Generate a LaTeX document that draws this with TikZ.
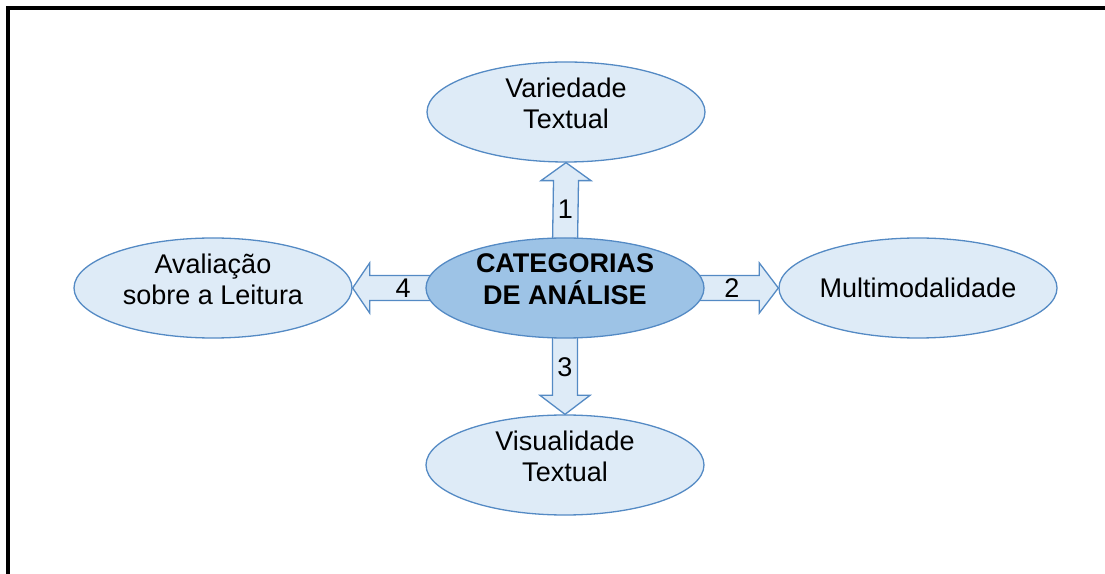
\documentclass[tikz,border=0pt]{standalone}
\usepackage{fontspec}
\setmainfont{Liberation Sans}
\usetikzlibrary{shapes.geometric,calc,backgrounds}
\definecolor{lightblue}{RGB}{222,235,247}
\definecolor{midblue}{RGB}{157,195,230}
\definecolor{edgeblue}{RGB}{84,138,196}
\tikzset{
  topic/.style={ellipse, draw=edgeblue, fill=lightblue, line width=1.3pt,
    minimum width=278pt, minimum height=100pt, inner sep=0pt, align=center,
    text depth=18pt, font=\fontsize{27}{31}\selectfont},
  core/.style={topic, fill=midblue, font=\fontsize{27}{32}\selectfont\bfseries},
  blockarrow/.style={draw=edgeblue, fill=lightblue, line width=1.3pt, line join=miter},
  num/.style={inner sep=0pt, font=\fontsize{27}{31}\selectfont}
}
\begin{document}
\begin{tikzpicture}[x=1pt,y=1pt]
  \useasboundingbox (0,0) rectangle (1105,573);
  \draw[line width=4pt] (8,-20) -- (8,565) -- (1130,565);
  % categories
  \node[core] (cat) at (565,285) {CATEGORIAS\\DE ANÁLISE};
  \node[topic] (var) at (566,461) {Variedade\\Textual};
  \node[topic, text depth=0pt] (mul) at (918,285) {Multimodalidade};
  \node[topic] (vis) at (565,108) {Visualidade\\Textual};
  \node[topic] (ava) at (213,285) {Avaliação\\sobre a Leitura};
  % heads of the block arrows
  \coordinate (h1) at ($(var.south)+(0,-18)$);
  \coordinate (h2) at ($(mul.west)+(-19,0)$);
  \coordinate (h3) at ($(vis.north)+(0,19)$);
  \coordinate (h4) at ($(ava.east)+(17,0)$);
  \begin{scope}[on background layer]
    \draw[blockarrow] ($(cat.north)+(-12.5,-8)$) -- ($(h1)+(-12.5,0)$) -- ($(h1)+(-25,0)$)
      -- (var.south) -- ($(h1)+(25,0)$) -- ($(h1)+(12.5,0)$) -- ($(cat.north)+(12.5,-8)$) -- cycle;
    \draw[blockarrow] ($(cat.east)+(-8,12.5)$) -- ($(h2)+(0,12.5)$) -- ($(h2)+(0,25)$)
      -- (mul.west) -- ($(h2)+(0,-25)$) -- ($(h2)+(0,-12.5)$) -- ($(cat.east)+(-8,-12.5)$) -- cycle;
    \draw[blockarrow] ($(cat.south)+(-12.5,8)$) -- ($(h3)+(-12.5,0)$) -- ($(h3)+(-25,0)$)
      -- (vis.north) -- ($(h3)+(25,0)$) -- ($(h3)+(12.5,0)$) -- ($(cat.south)+(12.5,8)$) -- cycle;
    \draw[blockarrow] ($(cat.west)+(8,12.5)$) -- ($(h4)+(0,12.5)$) -- ($(h4)+(0,25)$)
      -- (ava.east) -- ($(h4)+(0,-25)$) -- ($(h4)+(0,-12.5)$) -- ($(cat.west)+(8,-12.5)$) -- cycle;
  \end{scope}
  \node[num] (n1) at ($(cat.north)!0.5!(h1)$) {1};
  \node[num] (n2) at ($(cat.east)!0.5!(h2)$) {2};
  \node[num] (n3) at ($(cat.south)!0.5!(h3)$) {3};
  \node[num] (n4) at ($(cat.west)!0.4!(h4)$) {4};
\end{tikzpicture}
\end{document}
